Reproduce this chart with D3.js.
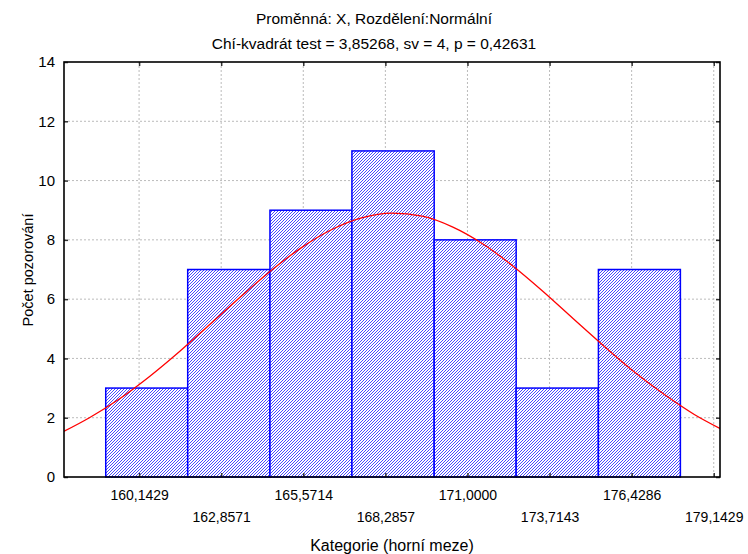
<!DOCTYPE html>
<html>
<head>
<meta charset="utf-8">
<script src="https://cdn.jsdelivr.net/npm/d3@7"></script>
<style>
  body { margin: 0; background: #fff; }
  text { font-family: "Liberation Sans", Arial, sans-serif; fill: #000; }
</style>
</head>
<body>
<div id="chart"></div>
<script>
// titulky
const title_lines = ["Proměnná: X, Rozdělení:Normální", "Chí-kvadrát test = 3,85268, sv = 4, p = 0,42631"];
const x_title = "Kategorie (horní meze)";
const y_title = "Počet pozorování";

// hranice tříd (dolní/horní) a četnosti
const bin_edges = [159.04, 161.75, 164.47, 167.18, 169.90, 172.61, 175.33, 178.04];
const counts = [3, 7, 9, 11, 8, 3, 7];

// popisky osy x
const x_ticks = [160.1429, 162.8571, 165.5714, 168.2857, 171.0000, 173.7143, 176.4286, 179.1429];
const y_ticks = [0, 2, 4, 6, 8, 10, 12, 14];

// očekávaná normální křivka
const curve_x = [157.5, 158.5, 159.5, 160.5, 161.5, 162.5, 163.5, 164.5, 165.5, 166.5, 167.5, 168.5,
                 169.5, 170.5, 171.5, 172.5, 173.5, 174.5, 175.5, 176.5, 177.5, 178.5, 179.5];
const curve_y = [1.46, 2.00, 2.64, 3.40, 4.25, 5.16, 6.08, 6.96, 7.73, 8.34, 8.74, 8.90,
                 8.80, 8.44, 7.87, 7.12, 6.26, 5.34, 4.43, 3.56, 2.79, 2.11, 1.56];

const W = 748, H = 554;
const plot = {left: 64, top: 62, right: 720, bottom: 477};

const svg = d3.select("#chart").append("svg")
    .attr("width", W).attr("height", H);

const x = d3.scaleLinear().domain([157.66, 179.35]).range([plot.left, plot.right]);
const y = d3.scaleLinear().domain([0, 14]).range([plot.bottom, plot.top]);

// šrafování
const defs = svg.append("defs");
const pat = defs.append("pattern")
    .attr("id", "hatch")
    .attr("patternUnits", "userSpaceOnUse")
    .attr("width", 3).attr("height", 3);
pat.append("rect").attr("width", 3).attr("height", 3).attr("fill", "#fff");
pat.append("path")
    .attr("d", "M0,3 L3,0 M-1,1 L1,-1 M2,4 L4,2")
    .attr("stroke", "#1a1aff").attr("stroke-width", 0.8);

defs.append("clipPath").attr("id", "clip")
  .append("rect")
    .attr("x", plot.left).attr("y", plot.top)
    .attr("width", plot.right - plot.left).attr("height", plot.bottom - plot.top);

// mřížka
const grid = svg.append("g").attr("class", "grid");
grid.selectAll("line.gx")
    .data(x_ticks)
    .enter().append("line")
    .attr("x1", d => x(d)).attr("x2", d => x(d))
    .attr("y1", plot.top).attr("y2", plot.bottom)
    .attr("stroke", "#bbb").attr("stroke-dasharray", "2,2").attr("stroke-width", 1);
grid.selectAll("line.gy")
    .data(y_ticks.slice(1, -1))
    .enter().append("line")
    .attr("x1", plot.left).attr("x2", plot.right)
    .attr("y1", d => y(d)).attr("y2", d => y(d))
    .attr("stroke", "#bbb").attr("stroke-dasharray", "2,2").attr("stroke-width", 1);

// sloupce
svg.append("g").selectAll("rect")
    .data(counts)
    .enter().append("rect")
    .attr("x", (d, i) => x(bin_edges[i]))
    .attr("width", (d, i) => x(bin_edges[i + 1]) - x(bin_edges[i]))
    .attr("y", d => y(d))
    .attr("height", d => y(0) - y(d))
    .attr("fill", "url(#hatch)")
    .attr("stroke", "#0000ff")
    .attr("stroke-width", 1.5);

// křivka
const line = d3.line()
    .x(d => x(d[0]))
    .y(d => y(d[1]))
    .curve(d3.curveMonotoneX);
svg.append("path")
    .datum(curve_x.map((v, i) => [v, curve_y[i]]))
    .attr("clip-path", "url(#clip)")
    .attr("d", line)
    .attr("fill", "none")
    .attr("stroke", "#ff0000")
    .attr("stroke-width", 1.3);

// osy
const fmt = d => d.toFixed(4).replace(".", ",");
const ax_b = svg.append("g")
    .attr("transform", `translate(0,${plot.bottom})`)
    .call(d3.axisBottom(x).tickValues(x_ticks).tickSizeInner(-4).tickSizeOuter(0).tickFormat(fmt));
ax_b.selectAll(".tick text")
    .attr("y", (d, i) => i % 2 === 0 ? 23 : 45)
    .attr("dy", 0)
    .attr("font-size", 14)
    .style("font-family", "Liberation Sans, Arial, sans-serif");

const ax_t = svg.append("g")
    .attr("transform", `translate(0,${plot.top})`)
    .call(d3.axisTop(x).tickValues(x_ticks).tickSizeInner(-4).tickSizeOuter(0).tickFormat(""));

const ax_l = svg.append("g")
    .attr("transform", `translate(${plot.left},0)`)
    .call(d3.axisLeft(y).tickValues(y_ticks).tickSizeInner(-4).tickSizeOuter(0));
ax_l.selectAll(".tick text")
    .attr("x", -9)
    .attr("font-size", 15)
    .style("font-family", "Liberation Sans, Arial, sans-serif");

const ax_r = svg.append("g")
    .attr("transform", `translate(${plot.right},0)`)
    .call(d3.axisRight(y).tickValues(y_ticks).tickSizeInner(-4).tickSizeOuter(0).tickFormat(""));

[ax_b, ax_t, ax_l, ax_r].forEach(a => {
    a.select(".domain").remove();
    a.selectAll(".tick line").attr("stroke", "#333").attr("stroke-width", 1.5);
});

// rámeček
svg.append("rect")
    .attr("x", plot.left).attr("y", plot.top)
    .attr("width", plot.right - plot.left).attr("height", plot.bottom - plot.top)
    .attr("fill", "none").attr("stroke", "#000").attr("stroke-width", 1.6);

// titulky
svg.selectAll("text.title")
    .data(title_lines)
    .enter().append("text")
    .attr("class", "title")
    .attr("x", 374)
    .attr("y", (d, i) => 24 + i * 25)
    .attr("text-anchor", "middle")
    .attr("font-size", 15.5)
    .text(d => d);

svg.append("text")
    .attr("x", 392).attr("y", 551)
    .attr("text-anchor", "middle")
    .attr("font-size", 16)
    .text(x_title);

svg.append("text")
    .attr("transform", "translate(33,270) rotate(-90)")
    .attr("text-anchor", "middle")
    .attr("font-size", 14.5)
    .text(y_title);
</script>
</body>
</html>
